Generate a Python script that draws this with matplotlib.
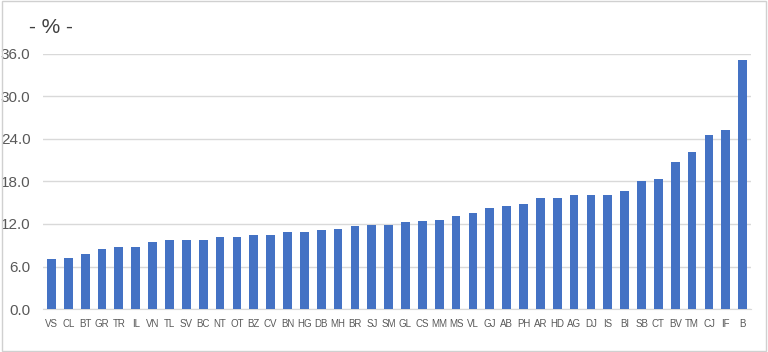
import matplotlib.pyplot as plt
from matplotlib.patches import Rectangle

labels = ["VS", "CL", "BT", "GR", "TR", "IL", "VN", "TL", "SV", "BC", "NT", "OT",
          "BZ", "CV", "BN", "HG", "DB", "MH", "BR", "SJ", "SM", "GL", "CS", "MM",
          "MS", "VL", "GJ", "AB", "PH", "AR", "HD", "AG", "DJ", "IS", "BI", "SB",
          "CT", "BV", "TM", "CJ", "IF", "B"]
values = [7.1, 7.2, 7.8, 8.5, 8.7, 8.7, 9.5, 9.7, 9.8, 9.8, 10.2, 10.2,
          10.4, 10.5, 10.9, 10.9, 11.2, 11.3, 11.7, 11.8, 11.9, 12.3, 12.4, 12.5,
          13.1, 13.6, 14.3, 14.5, 14.8, 15.7, 15.7, 16.1, 16.1, 16.1, 16.6, 18.0,
          18.3, 20.8, 22.1, 24.6, 25.2, 35.1]
yticks = [0, 6, 12, 18, 24, 30, 36]

plt.rcParams['font.family'] = ['Liberation Sans Narrow', 'Liberation Sans', 'DejaVu Sans']

fig = plt.figure(figsize=(7.68, 3.52), dpi=100)
ax = fig.add_axes([0.056, 0.122, 0.922, 0.725])

x = range(len(labels))
ax.bar(x, values, width=0.52, color='#4472C4', zorder=3)

ax.set_xlim(-0.5, len(labels) - 0.5)
ax.set_ylim(0, 36)
ax.set_yticks(yticks)
ax.set_yticklabels(["%.1f" % v for v in yticks])
ax.set_xticks(list(x))
ax.set_xticklabels(labels)
ax.tick_params(axis='y', length=0, pad=9, labelsize=11, labelcolor='#595959')
ax.tick_params(axis='x', length=0, pad=7, labelsize=7, labelcolor='#595959')

ax.grid(axis='y', color='#d9d9d9', linewidth=1, zorder=0)
for s in ['top', 'right', 'left']:
    ax.spines[s].set_visible(False)
ax.spines['bottom'].set_color('#d9d9d9')

fig.text(0.038, 0.922, "- % -", fontsize=15, color='#404040', va='center', ha='left')

fig.patches.append(Rectangle((0.002, 0.003), 0.996, 0.994, transform=fig.transFigure,
                             fill=False, edgecolor='#d0d0d0', linewidth=1))

fig.savefig("out.png", dpi=100)
